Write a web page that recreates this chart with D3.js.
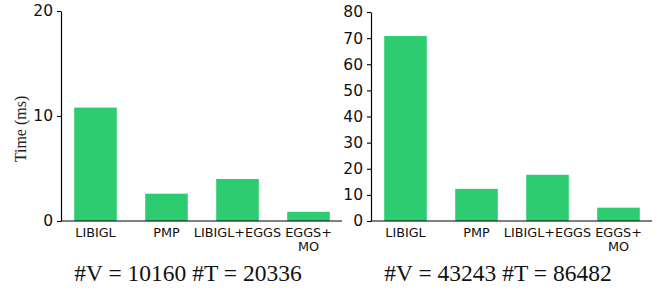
<!DOCTYPE html>
<html>
<head>
<meta charset="utf-8">
<script src="https://cdn.jsdelivr.net/npm/d3@7"></script>
<style>
  body { margin: 0; background: #fff; }
  svg { display: block; }
</style>
</head>
<body>
<svg id="chart" width="658" height="289"></svg>
<script>
// data
const methods = ['LIBIGL', 'PMP', 'LIBIGL+EGGS', 'EGGS+\nMO'];
const timesSmall = [10.8, 2.6, 4.0, 0.88];
const timesLarge = [70.8, 12.3, 17.7, 5.1];
const ticksSmall = [0, 10, 20];
const ticksLarge = [0, 10, 20, 30, 40, 50, 60, 70, 80];
const captions = ['#V = 10160 #T = 20336', '#V = 43243 #T = 86482'];

const barColor = '#2ecc71';
const svg = d3.select('#chart');

const panels = [
  { x0: 60, values: timesSmall, ticks: ticksSmall, max: 20, top: 11, caption: captions[0], ylabel: true },
  { x0: 370, values: timesLarge, ticks: ticksLarge, max: 80, top: 12, caption: captions[1], ylabel: false }
];

const baseY = 221;

panels.forEach(p => {
  const x = d3.scaleBand()
    .domain(methods)
    .range([p.x0, p.x0 + 284])
    .paddingInner(0.4)
    .paddingOuter(0.2);

  const y = d3.scaleLinear()
    .domain([0, p.max])
    .range([baseY, p.top]);

  const g = svg.append('g');

  g.selectAll('rect')
    .data(p.values)
    .enter()
    .append('rect')
    .attr('x', (d, i) => x(methods[i]))
    .attr('width', x.bandwidth())
    .attr('y', d => y(d))
    .attr('height', d => baseY - y(d))
    .attr('fill', barColor);

  // y axis (left spine)
  const yAxis = g.append('g')
    .attr('transform', `translate(${p.x0 + 1},0)`)
    .call(d3.axisLeft(y).tickValues(p.ticks).tickSize(4).tickSizeOuter(0).tickPadding(4));
  yAxis.select('.domain').attr('stroke', '#000').attr('stroke-width', 1.2);
  yAxis.selectAll('.tick line').attr('stroke', '#000').attr('stroke-width', 1.1);
  yAxis.selectAll('.tick text')
    .attr('font-family', 'DejaVu Sans')
    .attr('font-size', 15.5)
    .attr('fill', '#111');

  // bottom spine
  g.append('line')
    .attr('x1', p.x0 + 1).attr('x2', p.x0 + 282)
    .attr('y1', baseY).attr('y2', baseY)
    .attr('stroke', '#000').attr('stroke-width', 1.2);

  // category labels
  const labels = g.selectAll('.cat')
    .data(methods)
    .enter()
    .append('text')
    .attr('class', 'cat')
    .attr('text-anchor', 'middle')
    .attr('font-family', 'DejaVu Sans')
    .attr('font-size', 12.8)
    .attr('fill', '#111')
    .attr('transform', d => `translate(${x(d) + x.bandwidth() / 2},${baseY + 15.5})`);
  labels.each(function(d) {
    d.split('\n').forEach((line, k) => {
      d3.select(this).append('tspan')
        .attr('x', 0)
        .attr('y', k * 14.3)
        .text(line);
    });
  });

  svg.append('text')
    .attr('x', p.x0 + 128)
    .attr('y', 281)
    .attr('text-anchor', 'middle')
    .attr('font-family', 'Liberation Serif')
    .attr('font-size', 23.5)
    .attr('fill', '#111')
    .text(p.caption);

  if (p.ylabel) {
    svg.append('text')
      .attr('transform', 'translate(26,129) rotate(-90)')
      .attr('text-anchor', 'middle')
      .attr('font-family', 'Liberation Serif')
      .attr('font-size', 16)
      .attr('fill', '#222')
      .text('Time (ms)');
  }
});
</script>
</body>
</html>
